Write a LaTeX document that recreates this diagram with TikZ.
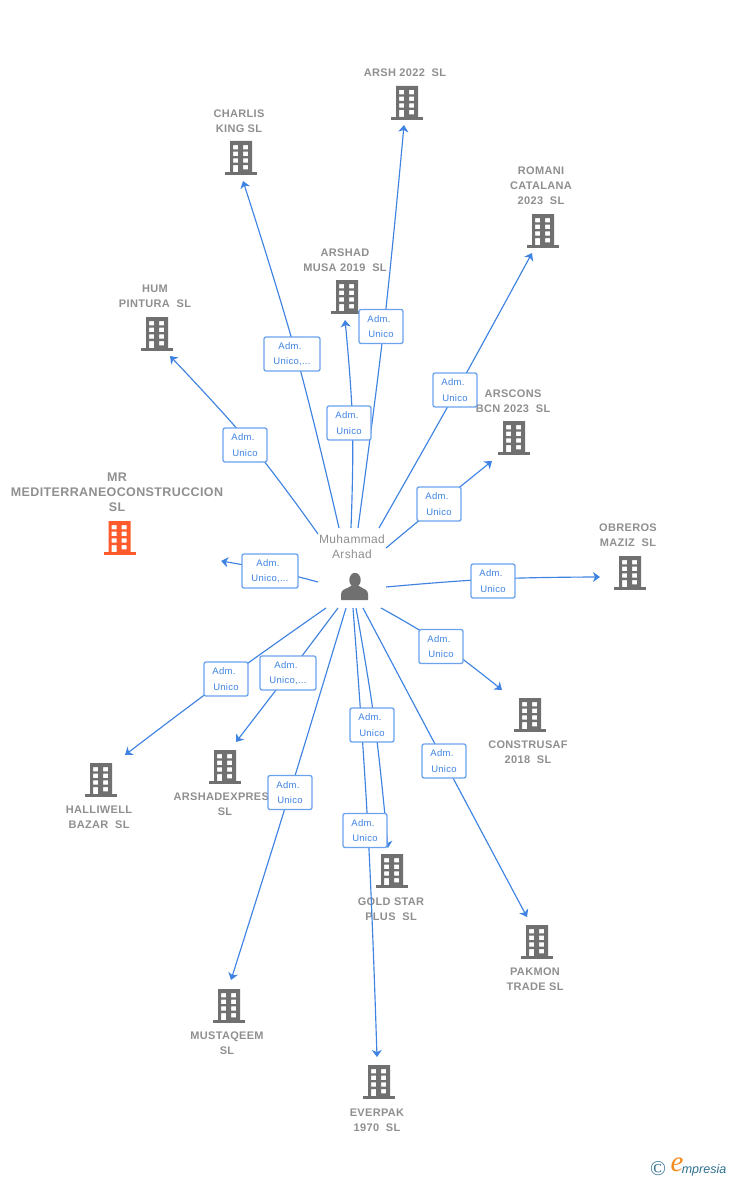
\documentclass[tikz,border=0pt]{standalone}
\usepackage{fontspec}
\usepackage{tikz}
\usetikzlibrary{arrows.meta}
\setmainfont{Liberation Sans}
\newfontfamily\lblfont[LetterSpace=3]{Liberation Sans}
\newfontfamily\logofont{Liberation Serif}
\definecolor{linkblue}{HTML}{3F83E2}
\definecolor{boxblue}{HTML}{6AA2EC}
\definecolor{iconGray}{HTML}{707070}
\definecolor{textGray}{HTML}{8F8F8F}
\definecolor{iconOrange}{HTML}{FF5A2B}
\definecolor{logoBlue}{HTML}{2F6F8F}
\definecolor{logoOrange}{HTML}{F58A1F}
\tikzset{
  link/.style={linkblue,line width=1.15pt,-{Stealth[length=7pt,width=10pt,inset=2pt]}},
  admbox/.style={draw=boxblue,fill=white,line width=1.3pt,rounded corners=2pt,minimum height=34pt,
    inner sep=0pt,text=linkblue,align=center,font=\fontsize{9.5}{15.5}\selectfont\lblfont},
  firmlabel/.style={text=textGray,align=center,font=\fontsize{11}{15}\selectfont\bfseries\lblfont},
  pics/office/.style={code={
    \fill[#1,even odd rule] (-11,-17) rectangle (11,14)
      (-8,-13) rectangle (-3,-8.7) (2,-13) rectangle (7,-8.7)
      (-8,-6.3) rectangle (-3,-2) (2,-6.3) rectangle (7,-2)
      (-8,0.3) rectangle (-3,4.7) (2,0.3) rectangle (7,4.7)
      (-8,7) rectangle (-3,14) (2,7) rectangle (7,11.3);
    \fill[#1] (-16,14) rectangle (16,17);
  }}
}
\begin{document}
\begin{tikzpicture}[x=1pt,y=-1pt]
  \useasboundingbox (0,0) rectangle (728,1180);

  % firms
  \foreach \nm/\bx/\by/\lx/\ly/\txt in {
      arsh/407/103/405/73/{ARSH 2022\ \ SL},
      charlis/241/158/239/121.5/{CHARLIS\\KING SL},
      romani/543/231/541/186/{ROMANI\\CATALANA\\2023\ \ SL},
      musa/347/297/345/260.5/{ARSHAD\\MUSA 2019\ \ SL},
      hum/157/334/155/296.5/{HUM\\PINTURA\ \ SL},
      arscons/514/438/513/401.5/{ARSCONS\\BCN 2023\ \ SL},
      obreros/630/573/628/535.5/{OBREROS\\MAZIZ\ \ SL},
      construsaf/530/715/528/752.5/{CONSTRUSAF\\2018\ \ SL},
      halliwell/101/780/99/817.5/{HALLIWELL\\BAZAR\ \ SL},
      express/225/767/225/804.5/{ARSHADEXPRES\phantom{S}\\SL},
      goldstar/392/871/391/909.5/{GOLD STAR\\PLUS\ \ SL},
      pakmon/537/942/535/979.5/{PAKMON\\TRADE SL},
      mustaqeem/229/1006/227/1043.5/{MUSTAQEEM\\SL},
      everpak/379/1082/377/1120.5/{EVERPAK\\1970\ \ SL}}{
    \coordinate (\nm B) at (\bx,\by);
    \pic at (\nm B) {office=iconGray};
    \node[firmlabel] (\nm L) at (\lx,\ly) {\txt};
  }
  \coordinate (mrB) at (119.5,538);
  \pic at (mrB) {office=iconOrange};
  \node[firmlabel,font=\fontsize{12.5}{15}\selectfont\bfseries\lblfont] (mrL) at (117,492.5) {MR\\MEDITERRANEOCONSTRUCCION\\SL};

  % person
  \coordinate (user) at (355,587);
  \fill[iconGray] (355,580) ellipse (5.7 and 7.2);
  \fill[iconGray] (341,600) -- (341,594) .. controls (341,589) and (347,589) .. (351,586)
    -- (359,586) .. controls (363,589) and (368,589) .. (368,594) -- (368,600) -- cycle;
  \node[text=textGray,align=center,font=\fontsize{12}{15}\selectfont\lblfont] (userL) at (352,546.5) {Muhammad\\Arshad};

  % links
  \foreach \nm/\sx/\sy/\mx/\my/\tx/\ty in {
      arsh/358/528/384/326/404/125,
      charlis/339/528/296/354/243/181,
      musa/351/528/352.5/423/345/320,
      romani/379/528/457/390/532/253,
      arscons/386/548/439/504/492/461,
      obreros/386/587/493/579/600/577,
      construsaf/381/608/443/645/502/690,
      pakmon/363/608/444/761/527/917,
      goldstar/356/608/375/725/388/848,
      everpak/353/608/368/830/377/1057,
      mustaqeem/346/608/290/792/231/980,
      express/338/608/289/673/236/742,
      halliwell/326/608/226/679/125/755,
      mr/318/582/270/570/221/561,
      hum/318/534/251/445/170/356}{
    \coordinate (\nm S) at (\sx,\sy);
    \coordinate (\nm M) at (\mx,\my);
    \coordinate (\nm T) at (\tx,\ty);
    \draw[link] plot[smooth,tension=0.7] coordinates {(\nm S) (\nm M) (\nm T)};
  }

  % role boxes
  \foreach \nm/\bx/\by in {
      arsh/381/326.5, musa/349/423, romani/455/390, arscons/439/504, obreros/493/581,
      construsaf/441/646.5, pakmon/444/761, goldstar/372/725, everpak/365/830.5,
      mustaqeem/290/792.5, halliwell/226/679, hum/245/445}{
    \node[admbox,minimum width=44pt] (\nm A) at (\bx,\by) {Adm.\kern4pt\\Unico};
  }
  \foreach \nm/\bx/\by in {charlis/292/354, express/288/673, mr/270/571}{
    \node[admbox,minimum width=56pt] (\nm A) at (\bx,\by) {Adm.\kern4pt\\Unico,...};
  }

  % logo
  \node[text=logoBlue,font=\fontsize{21}{21}\selectfont\logofont,inner sep=0pt] (logoC) at (658,1169) {©};
  \node[text=logoOrange,font=\fontsize{29}{29}\selectfont\logofont\itshape,inner sep=0pt] (logoE) at (677,1165) {e};
  \node[text=logoBlue,font=\fontsize{12.5}{12.5}\selectfont\itshape,inner sep=0pt] (logoT) at (704,1170) {mpresia};
\end{tikzpicture}
\end{document}
